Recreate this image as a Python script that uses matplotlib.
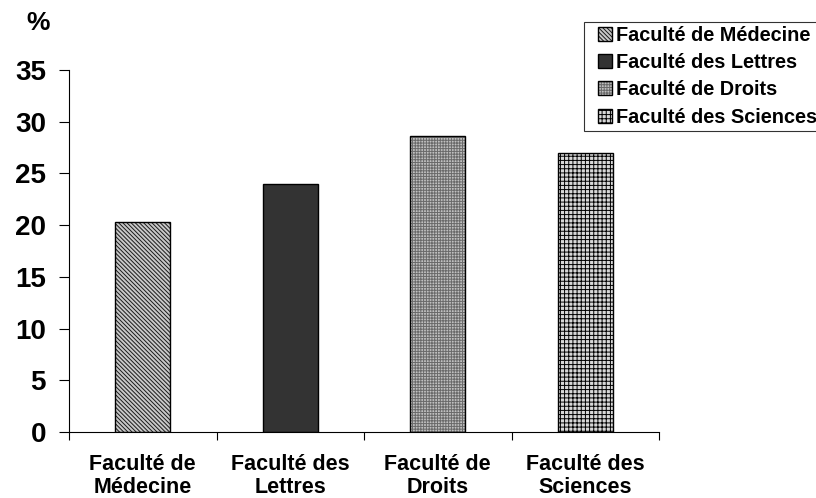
import matplotlib
matplotlib.use("Agg")
import matplotlib.pyplot as plt
import matplotlib.patches as mpatches
from matplotlib.legend_handler import HandlerPatch
import numpy as np

plt.rcParams['font.family'] = ['Liberation Sans', 'DejaVu Sans']
plt.rcParams['hatch.linewidth'] = 0.7

categories = ["Faculté de\nMédecine", "Faculté des\nLettres", "Faculté de\nDroits", "Faculté des\nSciences"]
legend_labels = ["Faculté de Médecine", "Faculté des Lettres", "Faculté de Droits", "Faculté des Sciences"]
values = [20.3, 24.0, 28.6, 27.0]
yticks = [0, 5, 10, 15, 20, 25, 30, 35]

facecolors = ["#c8c8c8", "#333333", "#c0c0c0", "#d8d8d8"]
hatches = ["\\\\\\\\\\\\\\\\", "", "++++++", "++++"]
hatchcolors = ["#1a1a1a", "#333333", "#6a6a6a", "#000000"]

fig = plt.figure(figsize=(8.16, 4.98), dpi=100)
ax = fig.add_axes([0.0846, 0.1325, 0.7230, 0.7269])

x = np.arange(len(values))
handles = []
for i, v in enumerate(values):
    b = ax.bar(x[i], v, width=0.375, facecolor=facecolors[i], edgecolor="black",
               linewidth=1.0, hatch=hatches[i], label=legend_labels[i])
    for p in b:
        p._hatch_color = matplotlib.colors.to_rgba(hatchcolors[i])
    handles.append(b.patches[0])

ax.set_xlim(-0.5, 3.5)
ax.set_ylim(0, 35)
ax.set_yticks(yticks)
ax.set_yticklabels([str(t) for t in yticks], fontsize=20, fontweight='bold')
ax.set_xticks([-0.5, 0.5, 1.5, 2.5, 3.5])
ax.set_xticklabels([])
ax.set_xticks(x, minor=True)
ax.set_xticklabels(categories, minor=True, fontsize=15.5, fontweight='bold', linespacing=1.1)
ax.tick_params(axis='x', which='minor', length=0, pad=16)
ax.tick_params(axis='x', which='major', length=6, direction='out', width=0.8)
ax.tick_params(axis='y', length=7.5, direction='out', width=0.8, pad=9)
for s in ['top', 'right']:
    ax.spines[s].set_visible(False)
ax.spines['left'].set_linewidth(0.8)
ax.spines['bottom'].set_linewidth(0.8)

fig.text(0.047, 0.954, "%", fontsize=19, fontweight='bold', ha='center', va='center')


def square_right(legend, orig_handle, xdescent, ydescent, width, height, fontsize):
    s = height
    return mpatches.Rectangle((width - xdescent - s, -ydescent), s, s)


leg = fig.legend(handles=handles, labels=legend_labels, loc='upper right',
                 bbox_to_anchor=(1.006, 0.956), frameon=True, fancybox=False,
                 edgecolor='black', prop={'size': 14.3, 'weight': 'bold'},
                 handlelength=1.16, handleheight=0.7, handletextpad=0.2,
                 labelspacing=0.41, borderpad=0.21, borderaxespad=0,
                 handler_map={mpatches.Rectangle: HandlerPatch(patch_func=square_right)})
leg.get_frame().set_linewidth(0.8)

fig.savefig("out.png", dpi=100)
